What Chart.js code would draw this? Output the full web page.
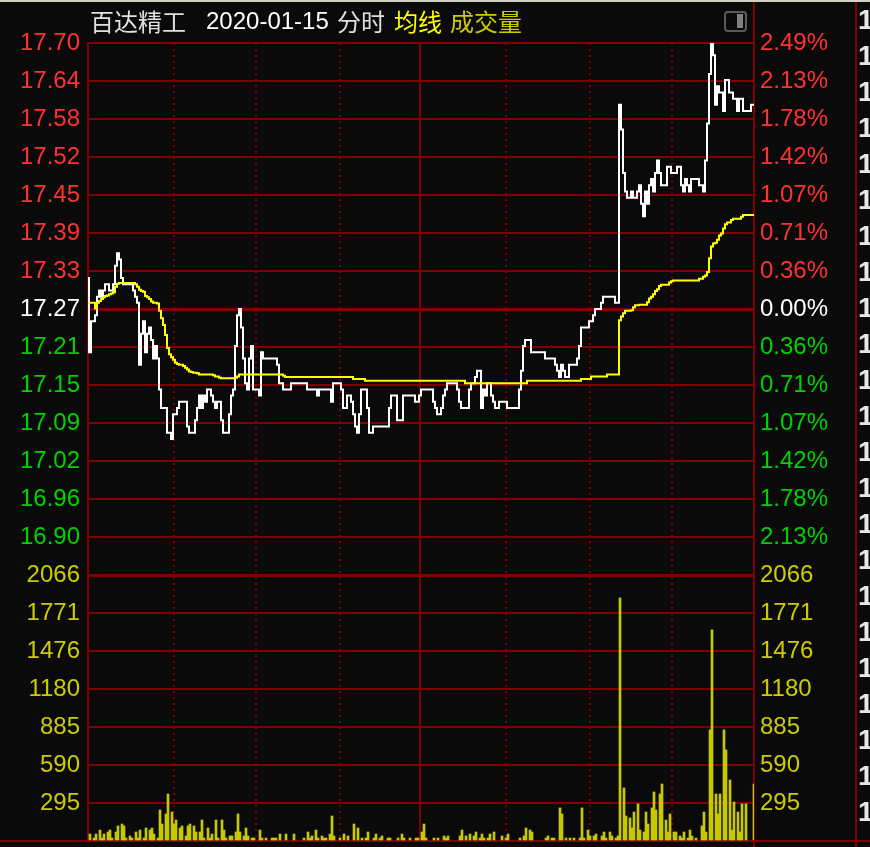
<!DOCTYPE html>
<html>
<head>
<meta charset="utf-8">
<style>html,body{margin:0;padding:0;background:#0a0a0a;overflow:hidden}canvas{display:block}</style>
<script src="https://cdn.jsdelivr.net/npm/chart.js@4/dist/chart.umd.js"></script>
</head>
<body>
<canvas id="c" width="870" height="847" style="width:870px;height:847px"></canvas>
<script>
const _ = null;
const priceLine = [
17.32,17.20,17.25,17.25,17.26,17.29,17.30,17.29,17.30,17.31,
17.31,17.30,17.30,17.31,17.34,17.36,17.35,17.32,17.31,17.31,
17.31,17.31,17.31,17.30,17.29,17.28,17.18,17.23,17.25,17.20,
17.23,17.24,17.22,17.19,17.21,17.19,17.14,17.11,17.11,17.11,
17.07,17.07,17.06,17.10,17.10,17.11,17.12,17.12,17.12,17.12,
17.08,17.07,17.07,17.07,17.09,17.11,17.13,17.11,17.13,17.12,
17.14,17.14,17.13,17.12,17.11,17.12,17.12,17.09,17.07,17.07,
17.07,17.10,17.13,17.14,17.21,17.26,17.27,17.24,17.19,17.15,
17.14,17.19,17.21,17.14,17.14,17.14,17.13,17.20,17.19,17.19,
17.19,17.19,17.19,17.19,17.19,17.18,17.15,17.15,17.14,17.14,
17.14,17.14,17.15,17.15,17.15,17.15,17.15,17.15,17.15,17.15,
17.14,17.14,17.14,17.14,17.14,17.13,17.14,17.14,17.14,17.14,
17.14,17.14,17.12,17.15,17.15,17.15,17.15,17.14,17.11,17.11,
17.13,17.13,17.12,17.10,17.08,17.07,17.10,17.14,17.14,17.14,
17.11,17.07,17.07,17.08,17.08,17.08,17.08,17.08,17.08,17.08,
17.08,17.11,17.13,17.13,17.13,17.09,17.09,17.09,17.13,17.13,
17.13,17.13,17.13,17.13,17.12,17.12,17.13,17.14,17.14,17.14,
17.14,17.14,17.14,17.12,17.11,17.10,17.10,17.11,17.13,17.14,
17.15,17.15,17.15,17.15,17.15,17.14,17.12,17.11,17.11,17.11,
17.11,17.14,17.15,17.15,17.16,17.17,17.17,17.11,17.14,17.13,
17.15,17.15,17.13,17.12,17.11,17.11,17.12,17.12,17.12,17.12,
17.11,17.11,17.11,17.11,17.11,17.11,17.14,17.17,17.21,17.22,
17.22,17.22,17.20,17.20,17.20,17.20,17.20,17.20,17.20,17.19,
17.19,17.19,17.19,17.19,17.18,17.17,17.16,17.18,17.17,17.16,
17.16,17.18,17.18,17.18,17.18,17.19,17.21,17.24,17.24,17.24,
17.24,17.25,17.25,17.26,17.27,17.27,17.27,17.28,17.29,17.29,
17.29,17.29,17.29,17.29,17.28,17.28,17.60,17.56,17.49,17.46,
17.45,17.45,17.46,17.45,17.45,17.46,17.47,17.44,17.42,17.46,
17.44,17.47,17.48,17.46,17.49,17.51,17.49,17.47,17.47,17.47,
17.50,17.50,17.49,17.49,17.49,17.50,17.50,17.47,17.46,17.48,
17.47,17.46,17.48,17.48,17.48,17.48,17.47,17.47,17.46,17.51,
17.57,17.65,17.70,17.68,17.60,17.63,17.62,17.62,17.59,17.64,
17.64,17.62,17.62,17.61,17.61,17.59,17.61,17.61,17.59,17.59,
17.59,17.59,17.60,17.60];
const avgLine = [
17.28,17.28,17.28,17.28,17.271,17.28,17.283,17.286,17.289,17.291,
17.292,17.294,17.295,17.297,17.306,17.311,17.312,17.312,17.312,17.312,
17.312,17.312,17.312,17.312,17.31,17.306,17.301,17.299,17.298,17.291,
17.289,17.286,17.282,17.28,17.28,17.279,17.267,17.255,17.244,17.228,
17.207,17.197,17.192,17.188,17.183,17.181,17.18,17.18,17.178,17.175,
17.172,17.169,17.168,17.167,17.167,17.166,17.164,17.164,17.164,17.164,
17.164,17.164,17.164,17.163,17.161,17.161,17.159,17.158,17.158,17.158,
17.158,17.158,17.158,17.158,17.159,17.161,17.164,17.164,17.164,17.164,
17.164,17.164,17.164,17.164,17.164,17.164,17.164,17.164,17.164,17.164,
17.164,17.164,17.164,17.164,17.164,17.164,17.164,17.164,17.162,17.16,
17.16,17.16,17.16,17.16,17.16,17.16,17.16,17.16,17.16,17.16,
17.16,17.16,17.16,17.16,17.16,17.16,17.16,17.16,17.16,17.16,
17.16,17.16,17.16,17.16,17.16,17.16,17.16,17.16,17.16,17.16,
17.16,17.16,17.16,17.157,17.157,17.157,17.157,17.157,17.157,17.154,
17.154,17.154,17.154,17.154,17.154,17.154,17.154,17.154,17.154,17.154,
17.154,17.154,17.154,17.154,17.154,17.154,17.154,17.154,17.154,17.154,
17.154,17.154,17.154,17.154,17.154,17.154,17.154,17.154,17.154,17.154,
17.154,17.154,17.154,17.154,17.154,17.154,17.154,17.154,17.154,17.154,
17.154,17.154,17.154,17.154,17.154,17.154,17.154,17.154,17.154,17.15,
17.15,17.15,17.15,17.15,17.15,17.15,17.15,17.15,17.15,17.15,
17.15,17.15,17.15,17.15,17.15,17.15,17.15,17.15,17.15,17.15,
17.15,17.15,17.15,17.15,17.15,17.15,17.15,17.15,17.15,17.15,
17.154,17.154,17.154,17.154,17.154,17.154,17.154,17.154,17.154,17.154,
17.154,17.154,17.154,17.154,17.154,17.154,17.154,17.154,17.154,17.154,
17.154,17.154,17.154,17.154,17.154,17.154,17.154,17.157,17.157,17.157,
17.157,17.157,17.161,17.161,17.161,17.161,17.161,17.161,17.161,17.161,
17.164,17.164,17.164,17.164,17.164,17.164,17.252,17.258,17.263,17.267,
17.267,17.267,17.268,17.273,17.276,17.276,17.277,17.277,17.277,17.277,
17.281,17.287,17.29,17.294,17.299,17.302,17.307,17.309,17.309,17.309,
17.309,17.313,17.315,17.316,17.316,17.316,17.316,17.316,17.316,17.316,
17.316,17.316,17.316,17.316,17.316,17.316,17.319,17.319,17.322,17.324,
17.33,17.352,17.371,17.376,17.377,17.382,17.389,17.392,17.40,17.407,
17.41,17.41,17.414,17.416,17.416,17.416,17.416,17.419,17.422,17.422,
17.422,17.422,17.422,17.422];
const volumes = [
_,54,_,23,54,_,85,23,54,_,
70,85,23,_,70,117,_,132,117,23,
_,39,23,_,70,23,85,_,23,101,
_,85,101,54,_,23,241,132,_,210,
365,_,225,132,163,_,101,117,_,39,
117,132,_,117,70,_,70,163,23,_,
101,23,54,_,163,23,_,163,85,23,
_,39,39,_,70,210,70,_,39,101,
39,_,23,23,_,_,85,23,_,23,
_,_,23,23,23,_,54,_,_,54,
_,_,_,54,_,_,_,_,23,_,
70,23,39,_,85,23,_,39,23,23,
_,54,194,39,_,_,23,_,54,_,
39,_,_,132,_,101,_,23,_,23,
70,_,_,23,54,_,23,39,_,_,
23,23,_,_,_,23,_,54,23,_,
_,23,_,_,23,23,_,70,132,23,
_,_,_,23,_,23,_,_,39,23,
39,_,_,_,_,_,39,85,_,39,
_,54,_,39,70,_,23,54,23,_,
23,54,_,70,_,_,_,39,_,23,
54,_,_,_,_,_,23,_,39,101,
_,85,70,_,_,_,_,_,_,23,
39,_,23,23,_,_,257,210,_,23,
_,23,_,23,_,_,23,257,23,_,
85,39,_,39,54,_,_,39,70,23,
_,70,39,_,23,39,1888,_,412,194,
_,179,101,225,_,288,85,_,70,225,
132,_,257,381,241,_,365,443,_,163,
70,210,_,70,70,_,39,23,70,_,
23,85,39,_,23,_,_,117,225,70,
_,863,1640,_,365,210,365,_,863,707,
_,474,85,303,_,225,70,288,_,288,
_,_,_,443];
const categories = priceLine.map((v, i) => i);
const timeGridIdx = [43, 84, 126, 166, 209, 251, 292];
const solidIdx = 166;
const priceLabels = ['17.70','17.64','17.58','17.52','17.45','17.39','17.33','17.27','17.21','17.15','17.09','17.02','16.96','16.90',''];
const pctLabels = ['2.49%','2.13%','1.78%','1.42%','1.07%','0.71%','0.36%','0.00%','0.36%','0.71%','1.07%','1.42%','1.78%','2.13%',''];
const volLabels = ['2066','1771','1476','1180','885','590','295',''];
const clippedLabels = ['1','1','1','1','1','1','1','1','1','1','1','1','1','1','1','1','1','1','1','1','1','1','1'];
const titleParts = [['百达精工','#e0e0e0',90,24],['2020-01-15','#ffffff',206,24],['分时','#e0e0e0',337,24],['均线','#ffff00',394,24],['成交量','#cccc00',450,24]];

const BG='#0a0a0a', GRID='#800000', RED='#ff3232', GREEN='#00d200', WHITE='#ffffff', OLIVE='#cccc00';
const LATIN='"Liberation Sans"';
const priceMax=17.70, priceMin=16.84, pctMax=2.49, volMax=2066;
const evenTicks=(max,min,n)=>scale=>{scale.ticks=Array.from({length:n},(_v,k)=>({value:max-(max-min)*k/(n-1)}));};
const tripleColor=c=>{const i=c.index;return i<7?RED:i===7?WHITE:GREEN;};
const font={family:LATIN,size:24};
const fit=w=>s=>{s.width=w;s.paddingTop=0;s.paddingBottom=0;};

const frame={id:'frame',
 beforeDraw(ch){const c=ch.ctx,a=ch.chartArea;c.save();c.fillStyle=BG;c.fillRect(0,0,870,847);c.fillStyle='#d4d0c8';c.fillRect(0,0,870,2);
  c.fillStyle=GRID;
  c.fillRect(0,a.bottom-1,870,2);
  c.fillRect(a.right-1,2,2,845);
  c.fillRect(855,2,2,845);
  c.restore();},
 afterDraw(ch){const c=ch.ctx;c.save();c.textBaseline='middle';c.textAlign='left';
  titleParts.forEach(([t,col,x,s],k)=>{c.font=(k===1?'24px '+LATIN:'24px "Noto Sans CJK SC"');c.fillStyle=col;c.fillText(t,x,22);});
  c.font='bold 28px "Liberation Sans"';c.fillStyle='#e8e8e8';
  clippedLabels.forEach((t,k)=>c.fillText(t,858,21+36*k));
  c.strokeStyle='#5a5a5a';c.lineWidth=2;c.beginPath();c.roundRect(725,12,21,19,3);c.stroke();
  c.fillStyle='#808080';c.fillRect(737,14,6,14);
  c.restore();}
};

new Chart(document.getElementById('c').getContext('2d'),{
 data:{labels:categories,datasets:[
  {type:'bar',data:volumes,yAxisID:'yVol',backgroundColor:'#c8c800',barPercentage:1,categoryPercentage:1,base:8,order:3,borderWidth:0},
  {type:'line',data:priceLine,yAxisID:'yPrice',borderColor:'#ffffff',borderWidth:2,pointRadius:0,stepped:'middle',order:2,fill:false},
  {type:'line',data:avgLine,yAxisID:'yPrice',borderColor:'#ffff00',borderWidth:2,pointRadius:0,stepped:'middle',order:1,fill:false}
 ]},
 plugins:[frame],
 options:{responsive:false,animation:false,events:[],
  layout:{padding:{top:43,bottom:6,left:0,right:0}},
  plugins:{legend:{display:false},tooltip:{enabled:false},title:{display:false}},
  scales:{
   x:{type:'category',offset:false,display:true,
      ticks:{display:false,autoSkip:false},
      grid:{offset:false,color:GRID,lineWidth:2,drawTicks:false,drawOnChartArea:true},
      border:{display:false,dash:c=>c.tick&&c.tick.value===solidIdx?[]:[2,4]},
      afterBuildTicks:s=>{s.ticks=timeGridIdx.map(v=>({value:v}));},afterFit:s=>{s.height=0;s.paddingLeft=0;s.paddingRight=0;}},
   yPrice:{type:'linear',position:'left',stack:'L',stackWeight:14,weight:2,min:priceMin,max:priceMax,
      afterBuildTicks:evenTicks(priceMax,priceMin,15),afterFit:fit(88),
      ticks:{font,padding:8,autoSkip:false,color:tripleColor,callback:(v,i)=>priceLabels[i]},
      grid:{color:GRID,lineWidth:c=>(c.index===7||c.index===14)?3:2,drawTicks:false},
      border:{color:GRID,width:2}},
   yVol:{type:'linear',position:'left',stack:'L',stackWeight:7,weight:1,min:0,max:volMax,
      afterBuildTicks:evenTicks(volMax,0,8),afterFit:fit(88),
      ticks:{font,padding:8,autoSkip:false,color:OLIVE,callback:(v,i)=>volLabels[i]},
      grid:{color:GRID,lineWidth:c=>c.index===0?3:2,drawTicks:false},
      border:{color:GRID,width:2}},
   yPct:{type:'linear',position:'right',stack:'R',stackWeight:14,weight:1,min:-pctMax,max:pctMax,
      afterBuildTicks:evenTicks(pctMax,-pctMax,15),afterFit:fit(116),
      ticks:{font,padding:6,autoSkip:false,color:tripleColor,callback:(v,i)=>pctLabels[i]},
      grid:{display:false,drawTicks:false},border:{color:GRID,width:2}},
   yVolR:{type:'linear',position:'right',stack:'R',stackWeight:7,weight:2,min:0,max:volMax,
      afterBuildTicks:evenTicks(volMax,0,8),afterFit:fit(116),
      ticks:{font,padding:6,autoSkip:false,color:OLIVE,callback:(v,i)=>volLabels[i]},
      grid:{display:false,drawTicks:false},border:{color:GRID,width:2}}
  }
 }
});
</script>
</body>
</html>
